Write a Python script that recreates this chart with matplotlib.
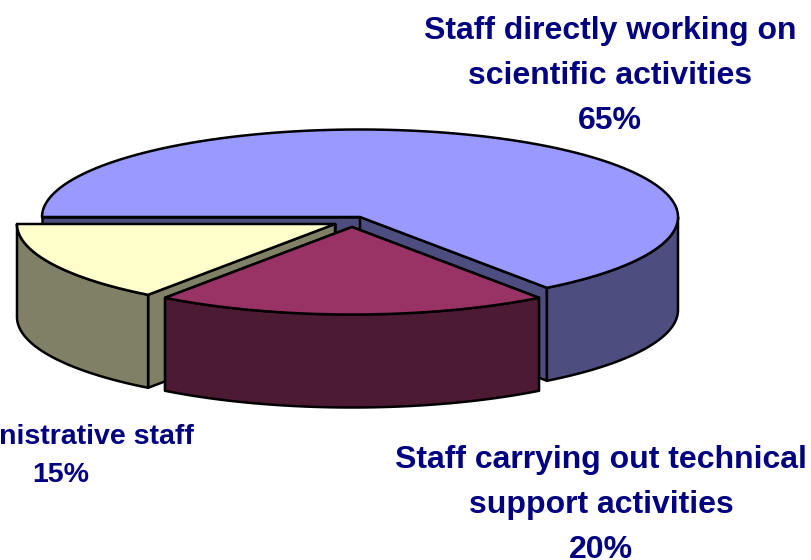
import numpy as np
import matplotlib
matplotlib.use('Agg')
import matplotlib.pyplot as plt
from matplotlib.patches import Polygon

# Share of staff by activity
categories = ['Staff directly working on\nscientific activities',
              'Staff carrying out technical\nsupport activities',
              'Administrative staff']
shares = [65, 20, 15]

top_colors = ['#9999FF', '#993366', '#FFFFCC']
side_colors = ['#4D4D80', '#4D1A33', '#808066']

# layout in pixels
rx, ry, depth = 318, 87.5, 93
start_angle = 270  # degrees clockwise from north
centers = [(360, 217), (352, 227), (335, 224)]
label_pos = [(610, 76), (601, 505), (61, 456)]
label_size = [23, 23, 20.5]
line_gaps = [1.66, 1.66, 1.57]

fig = plt.figure(figsize=(8.12, 5.6), dpi=100)
ax = fig.add_axes([0, 0, 1, 1])
ax.set_xlim(0, 812)
ax.set_ylim(560, 0)
ax.axis('off')


def rim(cx, cy, a0, a1):
    t = np.radians(np.linspace(a0, a1, max(int(a1 - a0) * 2, 2)))
    return np.column_stack([cx + rx * np.sin(t), cy - ry * np.cos(t)])


def face(points, color, z):
    ax.add_patch(Polygon(points, closed=True, facecolor=color, edgecolor='black',
                         linewidth=1.8, joinstyle='round', zorder=z))


edges = start_angle + np.cumsum([0] + shares) * 3.6
# back to front: main slice, administrative, technical
for z, i in [(1, 0), (2, 2), (3, 1)]:
    a0, a1 = edges[i], edges[i + 1]
    cx, cy = centers[i]
    apex = np.array([cx, cy])
    down = np.array([0, depth])
    arc = rim(cx, cy, a0, a1)

    # inner cut walls, the one nearer the viewer goes last
    for end in sorted((arc[0], arc[-1]), key=lambda p: p[1]):
        face([apex, end, end + down, apex + down], side_colors[i], z)

    # outer wall, only the front half of the rim shows
    lo, hi = max(a0, 450), min(a1, 630)
    if a1 <= 360:
        lo, hi = max(a0, 90), min(a1, 270)
    if hi > lo:
        front = rim(cx, cy, lo, hi)
        face(np.vstack([front, (front + down)[::-1]]), side_colors[i], z)

    face(np.vstack([apex, arc]), top_colors[i], z)

for name, share, (x, y), size, gap in zip(categories, shares, label_pos, label_size, line_gaps):
    ax.text(x, y, name + '\n' + str(share) + '%', ha='center', va='center',
            multialignment='center', fontsize=size, fontweight='bold',
            family='Liberation Sans', color='#000080', linespacing=gap, zorder=5)

fig.savefig('out.png', dpi=100)
